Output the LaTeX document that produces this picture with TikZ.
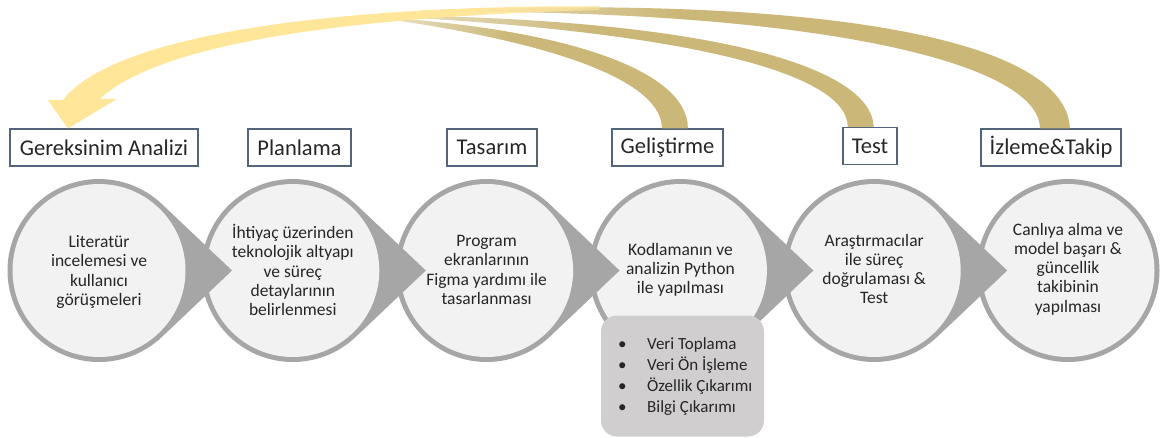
\documentclass[tikz,border=0pt]{standalone}
\usepackage{fontspec}
\setmainfont{Carlito}
\usetikzlibrary{fadings,calc}
\definecolor{ringgray}{RGB}{166,166,166}
\definecolor{discfill}{RGB}{242,242,242}
\definecolor{boxline}{RGB}{84,100,122}
\definecolor{subfill}{RGB}{208,206,206}
\definecolor{yel}{RGB}{255,230,153}
\definecolor{gold}{RGB}{203,183,119}
\definecolor{txt}{RGB}{38,38,38}
\pgfdeclarehorizontalshading{tailfadeshading}{100bp}{color(0bp)=(black); color(10bp)=(black); color(45bp)=(white); color(100bp)=(white)}
\pgfdeclarefading{tailfade}{\pgfuseshading{tailfadeshading}}
\pgfdeclarehorizontalshading{yelfadeshading}{100bp}{color(0bp)=(white); color(62bp)=(white); color(95bp)=(black); color(100bp)=(black)}
\pgfdeclarefading{yelfade}{\pgfuseshading{yelfadeshading}}
\begin{document}
\begin{tikzpicture}[x=1pt,y=-1pt,
  lbl/.style={draw=boxline, line width=1.1pt, fill=white, minimum height=37pt, inner sep=0pt,
    font=\fontsize{22.5}{26}\selectfont, text=txt},
  ctext/.style={align=center, font=\fontsize{17.5}{19.2}\selectfont, text=txt, inner sep=0pt},
  goldtail/.style={fill=gold, path fading=tailfade, fit fading=true},
]
\useasboundingbox (0,0) rectangle (1162,437);
\def\R{91.5}
\def\r{86.5}
% circles (drawn right to left so each tip lies over the next circle)
\foreach \i in {5,4,...,0}{
  \pgfmathsetmacro{\cx}{99+193.8*\i}
  \ifnum\i<5
    \fill[ringgray] (\cx+133,270.5) -- ($(\cx,270.5)+(46.5:\R)$) arc[start angle=46.5,end angle=313.5,radius=\R] -- cycle;
  \else
    \fill[ringgray] (\cx,270.5) circle[radius=\R];
  \fi
  \fill[discfill] (\cx,270.5) circle[radius=\r];
}
% circle texts
\node[ctext] (c1) at (99,272) {Literatür\\incelemesi ve\\kullanıcı\\görüşmeleri};
\node[ctext] (c2) at (292.8,270) {İhtiyaç üzerinden\\teknolojik altyapı\\ve süreç\\detaylarının\\belirlenmesi};
\node[ctext] (c3) at (486.6,270) {Program\\ekranlarının\\Figma yardımı ile\\tasarlanması};
\node[ctext] (c4) at (680.4,270) {Kodlamanın ve\\analizin Python\\ile yapılması};
\node[ctext] (c5) at (874.2,269) {Araştırmacılar\\ile süreç\\doğrulaması \&\\Test};
\node[ctext] (c6) at (1068,269) {Canlıya alma ve\\model başarı \&\\güncellik\\takibinin\\yapılması};
% sub list box
\node[fill=subfill, rounded corners=16pt, minimum width=163pt, minimum height=121pt, inner sep=0pt] (sub) at (682.5,376) {};
\node[anchor=west, align=left, font=\fontsize{17}{21.2}\selectfont, text=txt, inner sep=0pt] (list) at (618,376.5)
  {\makebox[29pt][l]{\textbullet}Veri Toplama\\\makebox[29pt][l]{\textbullet}Veri Ön İşleme\\\makebox[29pt][l]{\textbullet}Özellik Çıkarımı\\\makebox[29pt][l]{\textbullet}Bilgi Çıkarımı};
% label boxes
\node[lbl, minimum width=188pt] (ger) at (104,147.5) {Gereksinim Analizi};
\node[lbl, minimum width=103pt] (pla) at (299.5,147.5) {Planlama};
\node[lbl, minimum width=90pt] (tas) at (492,147.5) {Tasarım};
\node[lbl, minimum width=111pt] (gel) at (667.5,147.5) {Geliştirme};
\node[lbl, minimum width=54pt] (tst) at (870,146) {Test};
\node[lbl, minimum width=140pt] (izl) at (1051,147.5) {İzleme\&Takip};
% gold tails
\fill[goldtail] ($(gel.north)+(-5.5,0)$) .. controls (662,82) and (560,44) .. (390,19.5)
  -- (390,18) .. controls (565,30) and (688,70) .. ($(gel.north)+(20.5,0)$) -- cycle;
\fill[goldtail] ($(tst.north)+(-22,0)$) .. controls (848,75) and (700,34) .. (400,17)
  -- (400,15.5) .. controls (705,20) and (872,65) .. ($(tst.north)+(4,0)$) -- cycle;
\fill[goldtail] ($(izl.north)+(-11,0)$) .. controls (1040,60) and (800,8) .. (420,12)
  -- (420,10.5) .. controls (805,-5) and (1066,35) .. ($(izl.north)+(19,0)$) -- cycle;
% yellow return arrow
\fill[yel, path fading=yelfade, fit fading=true] ($(ger.north)+(-36,0)$) -- (117,99) -- (100,99)
  .. controls (150,52) and (300,18) .. (600,10) -- (600,6)
  .. controls (300,6) and (110,40) .. (63,100) -- (48,100) -- cycle;
\end{tikzpicture}
\end{document}
